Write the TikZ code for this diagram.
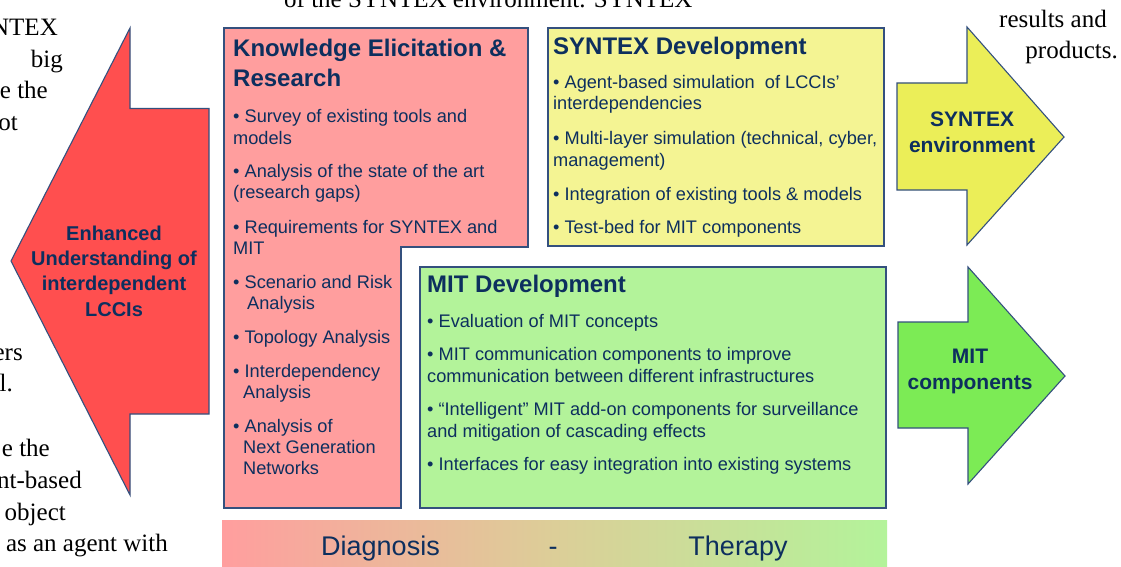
\documentclass[tikz,border=0pt]{standalone}
\usepackage{fontspec}
\setmainfont{Liberation Serif}
\setsansfont{Liberation Sans}
\definecolor{txtnavy}{HTML}{0D2F5E}
\definecolor{edgeblue}{HTML}{34507E}
\definecolor{redarrow}{HTML}{FF4F4F}
\definecolor{pinkbox}{HTML}{FF9E9E}
\definecolor{yellowbox}{HTML}{F4F493}
\definecolor{yellowarrow}{HTML}{EBEE58}
\definecolor{greenbox}{HTML}{B3F39A}
\definecolor{greenarrow}{HTML}{7CEB55}
\definecolor{tanmid}{HTML}{DCCE98}
\begin{document}
\begin{tikzpicture}[x=1pt,y=-1pt,
  shapebox/.style={draw=edgeblue, line width=1.1pt, line join=miter},
  titletxt/.style={anchor=base west, inner sep=0, text=txtnavy, font=\sffamily\bfseries\fontsize{24}{30}\selectfont, align=left},
  itemtxt/.style={anchor=base west, inner sep=0, text=txtnavy, font=\sffamily\fontsize{18.2}{21}\selectfont, align=left},
  mitem/.style={itemtxt, font=\sffamily\fontsize{18.2}{22}\selectfont},
  arrtxt/.style={anchor=base, inner sep=0, text=txtnavy, font=\sffamily\bfseries\fontsize{20}{25.3}\selectfont, align=center},
  bartxt/.style={anchor=base, inner sep=0, text=txtnavy, font=\sffamily\fontsize{27}{30}\selectfont},
  pagetxt/.style={inner sep=0, font=\rmfamily\fontsize{25}{30}\selectfont, text=black}]
\useasboundingbox (0,0) rectangle (1121,567);
\clip (0,0) rectangle (1121,567);
\fill[white] (0,0) rectangle (1121,567);

% surrounding page text fragments (multi-line nodes are placed by their last baseline)
\node[pagetxt, anchor=base east] (p1) at (58,36) {NTEX};
\node[pagetxt, anchor=base east] (p2) at (63,68) {big};
\node[pagetxt, anchor=base east] (p3) at (48,99) {e the};
\node[pagetxt, anchor=base east] (p4) at (18,131) {ot};
\node[pagetxt, anchor=base east] (p5) at (23,360) {ers};
\node[pagetxt, anchor=base east] (p6) at (13,391) {l.};
\node[pagetxt, anchor=base east] (p7) at (50,456) {e the};
\node[pagetxt, anchor=base east] (p8) at (82,488) {nt-based};
\node[pagetxt, anchor=base east] (p9) at (66,520) {object};
\node[pagetxt, anchor=base east] (p10) at (168,551) {as an agent with};
\node[pagetxt, anchor=base west] (p11) at (284,8) {of the SYNTEX environment. SYNTEX};
\node[pagetxt, anchor=base east] (p12) at (1107,28) {results and};
\node[pagetxt, anchor=base east] (p13) at (1118,59) {products.};

% red left arrow
\path[shapebox, fill=redarrow] (11,261) -- (130,28) -- (130,108.5) -- (209,108.5) -- (209,414) -- (130,414) -- (130,495) -- cycle;
\node[arrtxt] (enh) at (114,316) {Enhanced\\Understanding of\\interdependent\\LCCIs};

% knowledge box
\path[shapebox, fill=pinkbox] (224,28) -- (528,28) -- (528,247) -- (401,247) -- (401,508) -- (224,508) -- cycle;
\node[titletxt] (kt) at (233,87) {Knowledge Elicitation \&\\Research};
\node[itemtxt] (k1) at (233,144) {• Survey of existing tools and\\models};
\node[itemtxt] (k2) at (233,198.5) {• Analysis of the state of the art\\(research gaps)};
\node[itemtxt] (k3) at (233,254) {• Requirements for SYNTEX and\\MIT};
\node[itemtxt] (k4) at (233,309) {• Scenario and Risk\\\hspace*{14pt}Analysis};
\node[itemtxt] (k5) at (233,343) {• Topology Analysis};
\node[itemtxt] (k6) at (233,398) {• Interdependency\\\hspace*{10pt}Analysis};
\node[itemtxt] (k7) at (233,474) {• Analysis of\\\hspace*{10pt}Next Generation\\\hspace*{10pt}Networks};

% SYNTEX development box
\path[shapebox, fill=yellowbox] (548,28) rectangle (884,246);
\node[titletxt] (st) at (553,55) {SYNTEX Development};
\node[itemtxt] (s1) at (553,110) {• Agent-based simulation\ \ of LCCIs’\\interdependencies};
\node[itemtxt] (s2) at (553,166) {• Multi-layer simulation (technical, cyber,\\management)};
\node[itemtxt] (s3) at (553,200) {• Integration of existing tools \& models};
\node[itemtxt] (s4) at (553,233) {• Test-bed for MIT components};

% MIT development box
\path[shapebox, fill=greenbox] (420,267) rectangle (886,508);
\node[titletxt] (mt) at (427,292) {MIT Development};
\node[mitem] (m1) at (427,327) {• Evaluation of MIT concepts};
\node[mitem] (m2) at (427,382) {• MIT communication components to improve\\communication between different infrastructures};
\node[mitem] (m3) at (427,437) {• “Intelligent” MIT add-on components for surveillance\\and mitigation of cascading effects};
\node[mitem] (m4) at (427,470) {• Interfaces for easy integration into existing systems};

% right arrows
\path[shapebox, fill=yellowarrow] (897,83) -- (967,83) -- (967,27) -- (1064,137) -- (967,245) -- (967,190) -- (897,190) -- cycle;
\node[arrtxt, font=\sffamily\bfseries\fontsize{21}{26}\selectfont] (senv) at (972,153) {SYNTEX\\environment};
\path[shapebox, fill=greenarrow] (898,322) -- (968,322) -- (968,267) -- (1065,376) -- (968,484) -- (968,428) -- (898,428) -- cycle;
\node[arrtxt, font=\sffamily\bfseries\fontsize{21}{26}\selectfont] (mcomp) at (970,389) {MIT\\components};

% bottom bar
\shade[left color=pinkbox, right color=greenbox, middle color=tanmid] (222,520) rectangle (887,567);
\node[bartxt] (diag) at (380.5,555) {Diagnosis};
\node[bartxt] (dash) at (553,555) {-};
\node[bartxt] (ther) at (738,555) {Therapy};
\end{tikzpicture}
\end{document}
